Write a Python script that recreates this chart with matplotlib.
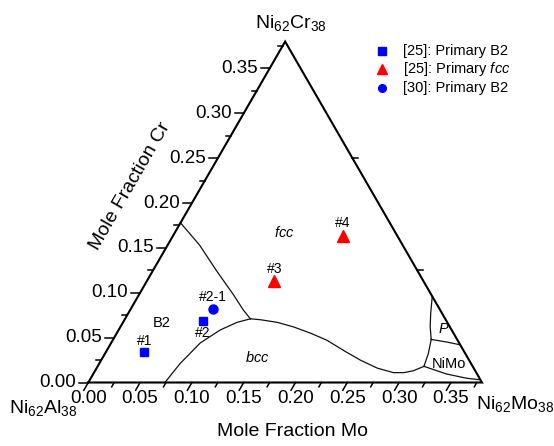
"""Ni62Al38-Ni62Cr38-Ni62Mo38 ternary section with sample compositions"""
import numpy as np
import matplotlib.pyplot as plt

plt.rcParams['font.family'] = ['Liberation Sans', 'DejaVu Sans']
plt.rcParams['mathtext.fontset'] = 'custom'
plt.rcParams['mathtext.rm'] = 'Liberation Sans'
plt.rcParams['mathtext.it'] = 'Liberation Sans:italic'
plt.rcParams['mathtext.default'] = 'regular'

# ---- data: (Mo, Cr) mole fractions ----
b2_25_mo = [0.037, 0.076]
b2_25_cr = [0.034, 0.069]
b2_25_names = ["#1", "#2"]

fcc_25_mo = [0.123, 0.164]
fcc_25_cr = [0.113, 0.163]
fcc_25_names = ["#3", "#4"]

b2_30_mo = [0.079]
b2_30_cr = [0.082]
b2_30_names = ["#2-1"]

# phase boundaries
b2_fcc_mo = [0.000, 0.031, 0.061, 0.091, 0.109, 0.121]
b2_fcc_cr = [0.178, 0.153, 0.125, 0.098, 0.081, 0.071]
b2_bcc_mo = [0.074, 0.078, 0.086, 0.098, 0.110, 0.121]
b2_bcc_cr = [0.000, 0.021, 0.044, 0.0585, 0.067, 0.071]
fcc_bcc_mo = [0.121, 0.131, 0.149, 0.167, 0.187, 0.207, 0.228, 0.250, 0.271, 0.289, 0.299, 0.307, 0.315]
fcc_bcc_cr = [0.071, 0.070, 0.067, 0.062, 0.055, 0.047, 0.036, 0.025, 0.016, 0.011, 0.011, 0.013, 0.018]
fcc_nimo_mo = [0.315, 0.312, 0.307]
fcc_nimo_cr = [0.018, 0.0325, 0.048]
fcc_p_mo = [0.307, 0.299, 0.292, 0.284]
fcc_p_cr = [0.048, 0.062, 0.077, 0.096]
p_nimo_mo = [0.307, 0.324, 0.338]
p_nimo_cr = [0.048, 0.045, 0.042]
nimo_bcc_mo = [0.315, 0.341, 0.363, 0.377]
nimo_bcc_cr = [0.018, 0.0095, 0.0047, 0.003]

# phase field labels
phase_names = ["B2", "$\\mathit{fcc}$", "$\\mathit{bcc}$", "$\\mathit{P}$", "NiMo"]
phase_mo = [0.038, 0.106, 0.149, 0.313, 0.338]
phase_cr = [0.066, 0.167, 0.028, 0.060, 0.021]

# axes ticks
mo_major = [0.00, 0.05, 0.10, 0.15, 0.20, 0.25, 0.30, 0.35]
mo_minor = [0.025, 0.075, 0.125, 0.175, 0.225, 0.275, 0.325, 0.375]
cr_major = [0.00, 0.05, 0.10, 0.15, 0.20, 0.25, 0.30, 0.35]
cr_minor = [0.025, 0.075, 0.125, 0.175, 0.225, 0.275, 0.325, 0.375]
right_ticks = [0.125, 0.25]

legend_labels = ["[25]: Primary B2", "[25]: Primary $\\mathit{fcc}$", "[30]: Primary B2"]

SIDE = 0.38
H = np.sqrt(3) / 2
PX = 1 / 1036          # data units per pixel
BLUE = "#0000ff"
RED = "#ff0000"


def tern(mo, cr):
    mo = np.asarray(mo, float)
    cr = np.asarray(cr, float)
    return mo + cr / 2, cr * H


def pxy(x, y):
    return (x - 88.3) * PX, (382.5 - y) * PX


fig = plt.figure(figsize=(5.54, 4.46), dpi=100)
ax = fig.add_axes([0, 0, 1, 1])
ax.set_xlim(-88.3 * PX, (554 - 88.3) * PX)
ax.set_ylim(-63.5 * PX, 382.5 * PX)
ax.axis("off")

# triangle
tx, ty = tern([0, SIDE, 0, 0], [0, 0, SIDE, 0])
ax.plot(tx, ty, color="k", lw=1.5, solid_joinstyle="miter", zorder=3)

# bottom (Mo) ticks, slanted parallel to the left edge
for v in mo_major + mo_minor:
    L = (9 if v in mo_major else 5) * PX
    x0, y0 = tern(v, 0)
    ax.plot([x0, x0 - 0.5 * L], [y0, y0 - H * L], color="k", lw=1.1)
for v in mo_major:
    x0, y0 = tern(v, 0)
    ax.text(x0, y0 - 16 * PX, f"{v:.2f}", ha="center", va="center", fontsize=13.5)

# left (Cr) ticks, horizontal
for v in cr_major + cr_minor:
    L = (9 if v in cr_major else 5) * PX
    x0, y0 = tern(0, v)
    ax.plot([x0 - L, x0], [y0, y0], color="k", lw=1.1)
for v in cr_major:
    x0, y0 = tern(0, v)
    ax.text(x0 - 12 * PX, y0, f"{v:.2f}", ha="right", va="center", fontsize=13.5)

# right edge ticks
for v in right_ticks:
    x0, y0 = tern(SIDE - v, v)
    ax.plot([x0, x0 + 6 * PX], [y0, y0], color="k", lw=1.1)

# phase boundaries
for mo, cr in [(b2_fcc_mo, b2_fcc_cr), (b2_bcc_mo, b2_bcc_cr), (fcc_bcc_mo, fcc_bcc_cr),
               (fcc_nimo_mo, fcc_nimo_cr), (fcc_p_mo, fcc_p_cr), (p_nimo_mo, p_nimo_cr),
               (nimo_bcc_mo, nimo_bcc_cr)]:
    x, y = tern(mo, cr)
    ax.plot(x, y, color="#111111", lw=0.9)

for name, mo, cr in zip(phase_names, phase_mo, phase_cr):
    x, y = tern(mo, cr)
    ax.text(x, y, name, ha="center", va="center", fontsize=10.5)

# samples
series = [
    (b2_25_mo, b2_25_cr, b2_25_names, "s", BLUE, 6),
    (fcc_25_mo, fcc_25_cr, fcc_25_names, "^", RED, 8),
    (b2_30_mo, b2_30_cr, b2_30_names, "o", BLUE, 6.5),
]
label_dy = {"#1": 11, "#2": -12.5, "#2-1": 12, "#3": 12, "#4": 13}
for mo, cr, names, mk, col, ms in series:
    x, y = tern(mo, cr)
    ax.plot(x, y, ls="none", marker=mk, color=col, ms=ms, mec=col, zorder=5)
    for xi, yi, nm in zip(x, y, names):
        ax.annotate(nm, (xi, yi), xytext=(0, label_dy[nm]), textcoords="offset pixels",
                    ha="center", va="center", fontsize=10)

# legend
for i, (lab, s) in enumerate(zip(legend_labels, series)):
    lx, ly = pxy(381.7, 51 + 18.3 * i)
    ax.plot([lx], [ly], ls="none", marker=s[3], color=s[4], ms=s[5] * 0.85, clip_on=False)
    tx_, ty_ = pxy(402.7, 51 + 18.3 * i)
    ax.text(tx_, ty_, lab, ha="left", va="center", fontsize=10.5)

# vertex labels and axis titles
ax.text(*pxy(291, 23), "Ni$_{62}$Cr$_{38}$", ha="center", va="center", fontsize=14)
ax.text(*pxy(43, 408), "Ni$_{62}$Al$_{38}$", ha="center", va="center", fontsize=14)
ax.text(*pxy(515, 404), "Ni$_{62}$Mo$_{38}$", ha="center", va="center", fontsize=14)
ax.text(*pxy(292.5, 432), "Mole Fraction Mo", ha="center", va="center", fontsize=14)
ax.text(*pxy(130, 186), "Mole Fraction Cr", ha="center", va="center", fontsize=14,
        rotation=60, rotation_mode="anchor")

fig.savefig("out.png", dpi=100)
